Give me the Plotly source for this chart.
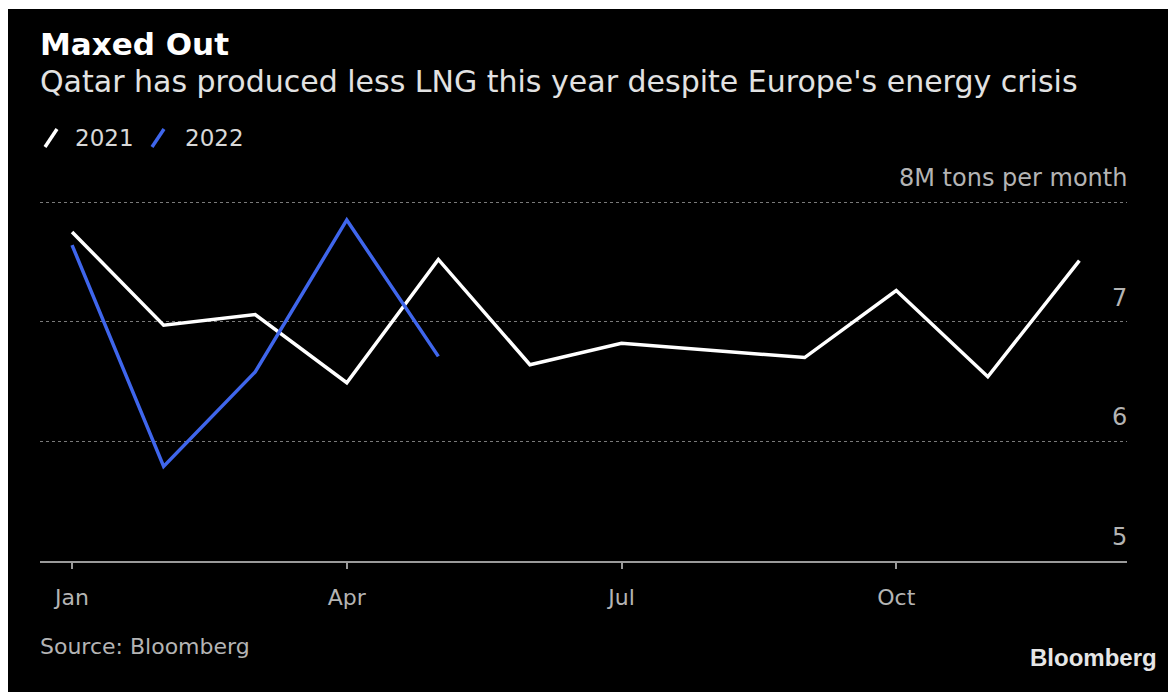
import plotly.graph_objects as go

# Monthly LNG output, million tons
months = ["Jan", "Feb", "Mar", "Apr", "May", "Jun", "Jul", "Aug", "Sep", "Oct", "Nov", "Dec"]
lng_2021 = [7.75, 6.97, 7.06, 6.49, 7.52, 6.64, 6.82, 6.76, 6.70, 7.26, 6.54, 7.51]
lng_2022 = [7.64, 5.79, 6.58, 7.85, 6.71]

y_ticks = [5, 6, 7, 8]
y_tick_text = ["5", "6", "7", "8M tons per month"]
x_tick_months = ["Jan", "Apr", "Jul", "Oct"]

W, H = 1168, 692
L, R, T, B = 40, 41, 160, 131
PW, PH = W - L - R, H - T - B
Y_MIN, Y_MAX = 5, 8 + 42 / ((H - B - 202) / 3)

FONT = "DejaVu Sans, sans-serif"
WHITE = "#ffffff"
BLUE = "#3f66ec"
GREY = "#b4b4b4"


def px_x(px):
    return (px - L) / PW


def px_y(py):
    return (H - B - py) / PH


idx = list(range(len(months)))

fig = go.Figure()
fig.add_trace(go.Scatter(x=idx, y=lng_2021, mode="lines", name="2021",
                         line=dict(color=WHITE, width=3.5)))
fig.add_trace(go.Scatter(x=idx[:len(lng_2022)], y=lng_2022, mode="lines", name="2022",
                         line=dict(color=BLUE, width=3.5)))

# black card with a thin white border on the top and left
fig.add_shape(type="rect", xref="paper", yref="paper", layer="below",
              x0=px_x(8), x1=px_x(W + 5), y0=px_y(H + 5), y1=px_y(9),
              fillcolor="black", line=dict(width=0))

annotations = [
    dict(text="<b>Maxed Out</b>", x=px_x(38), y=px_y(44), font=dict(size=31, color=WHITE)),
    dict(text="Qatar has produced less LNG this year despite Europe's energy crisis",
         x=px_x(38), y=px_y(82), font=dict(size=30, color="#e2e2e2")),
    dict(text="Source: Bloomberg", x=px_x(38), y=px_y(646), font=dict(size=22, color=GREY)),
]

# legend: a short slanted stroke in the series colour followed by the series name
legend_x = [(45, 73), (152, 183)]
for trace, (sx, tx) in zip(fig.data, legend_x):
    fig.add_shape(type="line", xref="paper", yref="paper",
                  x0=px_x(sx), y0=px_y(147), x1=px_x(sx + 12), y1=px_y(129),
                  line=dict(color=trace.line.color, width=3.5))
    annotations.append(dict(text=trace.name, x=px_x(tx), y=px_y(138),
                            font=dict(size=23, color="#d8d8d8")))

for a in annotations:
    a.update(xref="paper", yref="paper", xanchor="left", yanchor="middle", showarrow=False,
             align="left")

# value labels sit just above their gridlines at the right edge
for v, t in zip(y_ticks, y_tick_text):
    annotations.append(dict(text=t, xref="paper", yref="y", x=1, y=v,
                            xanchor="right", yanchor="middle", yshift=24, xshift=2,
                            showarrow=False, font=dict(size=24, color=GREY)))

annotations.append(dict(text="<b>Bloomberg</b>", xref="paper", yref="paper",
                        x=px_x(1159), y=px_y(657), xanchor="right", yanchor="middle",
                        showarrow=False,
                        font=dict(size=24, color="#e6e6e6", family="Liberation Sans, Arial")))

fig.update_layout(
    width=W, height=H,
    margin=dict(l=L, r=R, t=T, b=B),
    paper_bgcolor="white",
    plot_bgcolor="black",
    showlegend=False,
    font=dict(family=FONT, color=GREY),
    annotations=annotations,
)

fig.update_xaxes(
    range=[-0.35, 11.52],
    tickvals=[months.index(m) for m in x_tick_months],
    ticktext=x_tick_months,
    showgrid=False, zeroline=False,
    showline=True, linecolor="#9a9a9a", linewidth=2,
    ticks="outside", ticklen=6, tickwidth=2, tickcolor="#9a9a9a",
    ticklabelstandoff=10,
    tickfont=dict(size=22, color=GREY),
)

fig.update_yaxes(
    range=[Y_MIN, Y_MAX],
    tickvals=y_ticks,
    showticklabels=False,
    showgrid=True, gridcolor="#7a7a7a", gridwidth=1, griddash="dot",
    zeroline=False, showline=False, ticks="",
)

fig.write_html("out.html")
